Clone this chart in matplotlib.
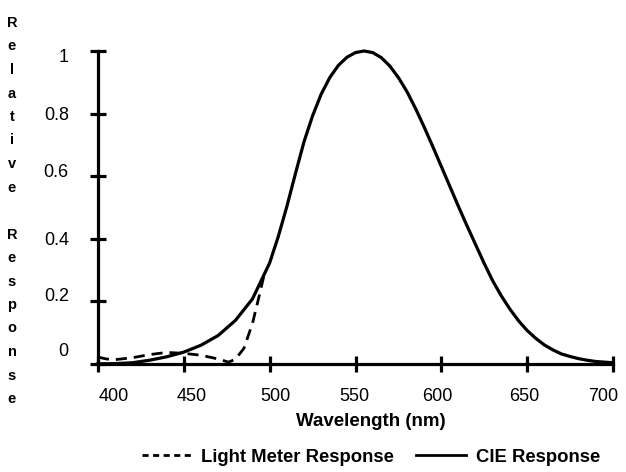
import matplotlib
matplotlib.use('Agg')
import matplotlib.pyplot as plt
from matplotlib.lines import Line2D
from matplotlib.transforms import ScaledTranslation

plt.rcParams['font.family'] = ['Liberation Sans', 'DejaVu Sans']

# CIE response
cie_nm = [400, 410, 420, 430, 440, 450, 460, 470, 480, 490, 500, 505, 510, 515,
          520, 525, 530, 535, 540, 545, 550, 555, 560, 565, 570, 575, 580, 585,
          590, 595, 600, 605, 610, 615, 620, 625, 630, 635, 640, 645, 650, 655,
          660, 665, 670, 675, 680, 685, 690, 695, 700]
cie_val = [0.0004, 0.0012, 0.004, 0.012, 0.023, 0.038, 0.06, 0.091, 0.139, 0.208,
           0.323, 0.407, 0.503, 0.608, 0.71, 0.793, 0.862, 0.915, 0.954, 0.98,
           0.995, 1.0, 0.995, 0.979, 0.952, 0.915, 0.87, 0.816, 0.757, 0.695,
           0.631, 0.567, 0.503, 0.441, 0.381, 0.321, 0.265, 0.217, 0.175, 0.138,
           0.107, 0.082, 0.061, 0.045, 0.032, 0.024, 0.017, 0.012, 0.008, 0.006,
           0.004]

# light meter response
lm_nm = [400, 405, 410, 420, 430, 440, 450, 460, 470, 476, 480, 485, 490, 494, 497]
lm_val = [0.022, 0.016, 0.014, 0.02, 0.03, 0.037, 0.034, 0.028, 0.016, 0.006,
          0.015, 0.05, 0.13, 0.22, 0.29]

xticks = [400, 450, 500, 550, 600, 650, 700]
yticks = [0, 0.2, 0.4, 0.6, 0.8, 1]
ylabels = ['0', '0.2', '0.4', '0.6', '0.8', '1']

fig = plt.figure(figsize=(6.26, 4.72), dpi=100)
ax = fig.add_axes([98/626, 1-364/472, (613-98)/626, (364-51)/472])

ax.plot(cie_nm, cie_val, color='black', lw=2.3, clip_on=False)
ax.plot(lm_nm, lm_val, color='black', lw=2.0, dashes=(4, 2.5), clip_on=False)

ax.set_xlim(400, 700)
ax.set_ylim(0, 1)
ax.set_xticks(xticks)
ax.set_yticks(yticks)
ax.set_yticklabels(ylabels)
for s in ['top', 'right']:
    ax.spines[s].set_visible(False)
for s in ['left', 'bottom']:
    ax.spines[s].set_linewidth(2.3)
ax.tick_params(direction='inout', length=12, width=2.3, labelsize=13)
ax.tick_params(axis='y', pad=15)
ax.tick_params(axis='x', pad=11)

# the labels in the original do not sit exactly on their ticks (pixel nudges)
x_nudge = [16, 8, 6, -1, -4, -3, -10]
y_nudge = [14, 7, 0, 6, 0, -5]
for lab, dx in zip(ax.get_xticklabels(), x_nudge):
    lab.set_transform(lab.get_transform() + ScaledTranslation(dx/100, 0, fig.dpi_scale_trans))
for lab, dy in zip(ax.get_yticklabels(), y_nudge):
    lab.set_transform(lab.get_transform() + ScaledTranslation(0, dy/100, fig.dpi_scale_trans))

ax.set_xlabel('Wavelength (nm)', fontsize=13.5, fontweight='bold')
ax.xaxis.set_label_coords((371-98)/515, -(422-364)/313, transform=ax.transAxes)
ax.xaxis.label.set_va('center')

# vertical stacked y label
ylab = 'Relative Response'
ys = [23 + i*23.5 for i in range(len(ylab))]
for ch, yy in zip(ylab, ys):
    fig.text(12/626, 1-yy/472, ch, ha='center', va='center',
             fontsize=10.5, fontweight='bold')

handles = [Line2D([], [], color='black', lw=2.0, dashes=(2.2, 1.6)),
           Line2D([], [], color='black', lw=2.0)]
fig.legend(handles, ['Light Meter Response', 'CIE Response'], loc='center',
           bbox_to_anchor=(371/626, 1-457/472), ncol=2, frameon=False,
           prop={'size': 13.3, 'weight': 'bold'}, handlelength=2.7,
           handletextpad=0.5, columnspacing=1.2)

fig.savefig('out.png', dpi=100)
